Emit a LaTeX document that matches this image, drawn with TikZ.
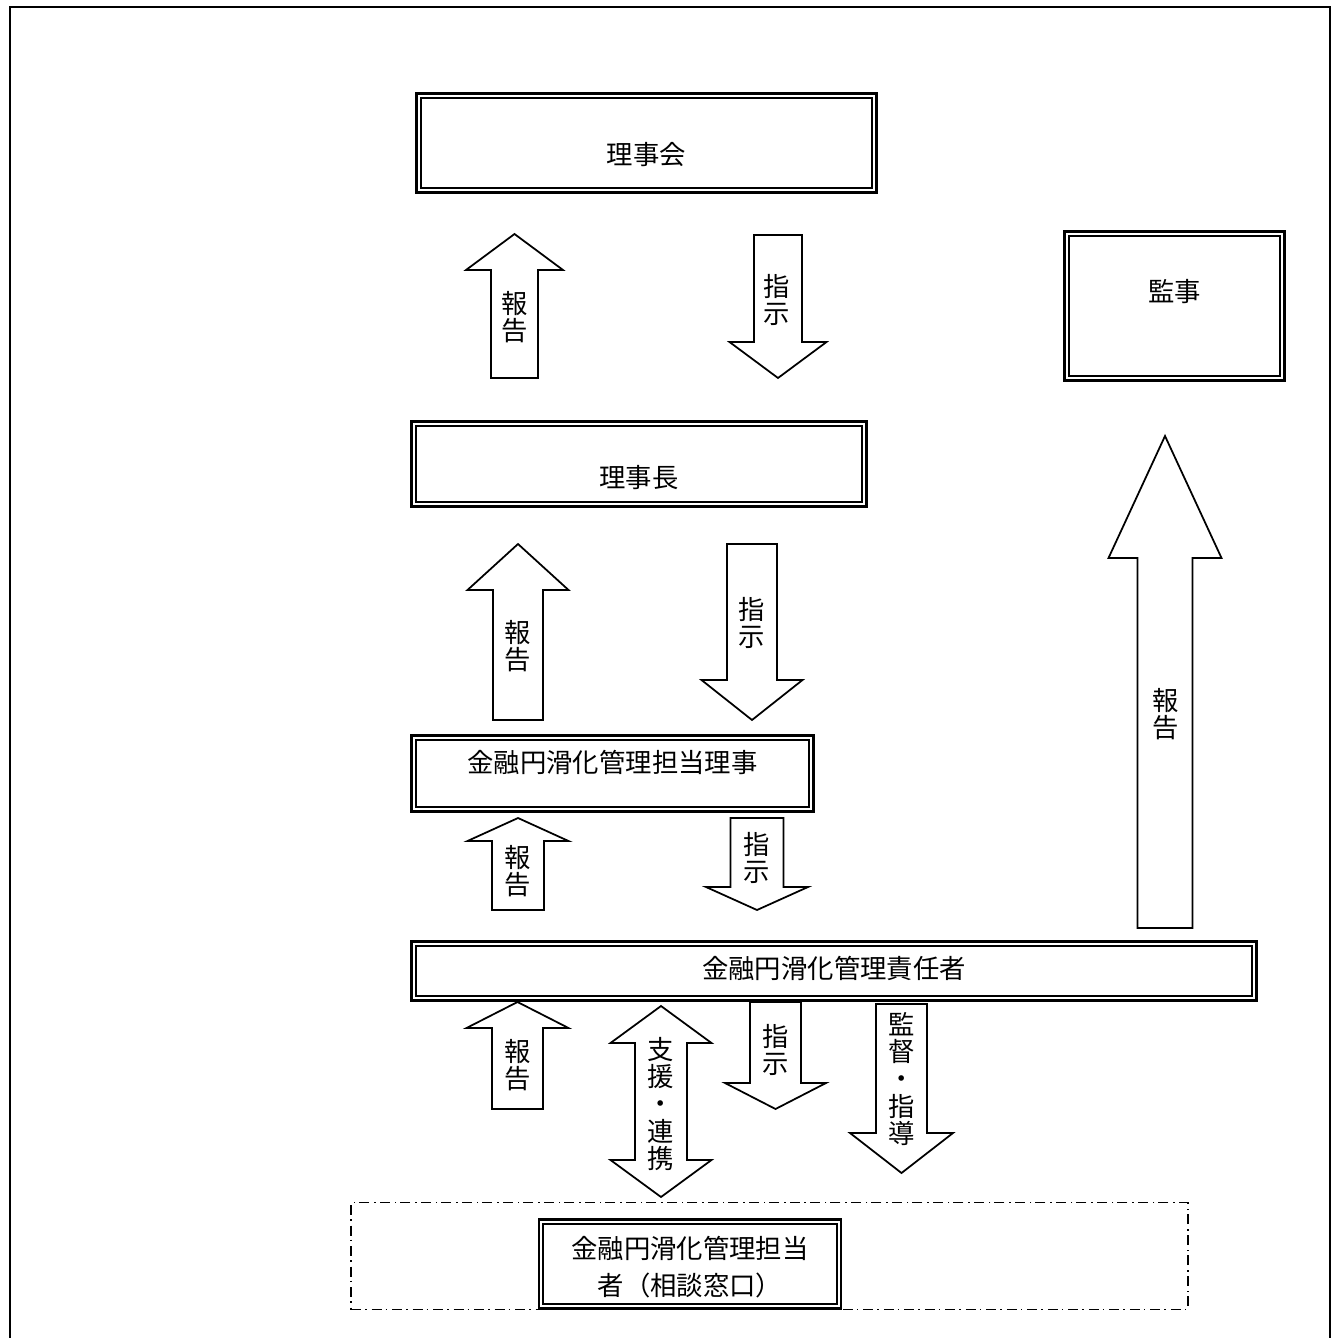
\documentclass[tikz,border=0pt]{standalone}
\usepackage{fontspec}
\setmainfont{Noto Sans CJK JP}
\usetikzlibrary{positioning}
\tikzset{
  dbox/.style={draw, line width=1.6pt, inner sep=0pt, fill=white,
    path picture={\draw[line width=0.9pt] ([shift={(0.085cm,-0.085cm)}]path picture bounding box.north west)
      rectangle ([shift={(-0.085cm,0.085cm)}]path picture bounding box.south east);}},
  chainbox/.style={draw, line width=0.8pt, inner sep=0pt,
    dash pattern=on 0.2cm off 0.08cm on 0.03cm off 0.1cm},
  blk/.style={draw, line width=1pt, line join=miter, fill=white},
  txt/.style={font=\fontsize{15pt}{15.5pt}\selectfont, align=center, inner sep=0pt},
}
% block arrow: x, tip, head base, tail end, shaft half width, head half width
\newcommand{\blkarrow}[6]{%
  \draw[blk] ({#1-#5},#4) -- ({#1-#5},#3) -- ({#1-#6},#3) -- (#1,#2)
    -- ({#1+#6},#3) -- ({#1+#5},#3) -- ({#1+#5},#4) -- cycle;}
% two-headed block arrow: x, top tip, top base, bottom base, bottom tip, shaft half, head half
\newcommand{\blkboth}[7]{%
  \draw[blk] (#1,#2) -- ({#1+#7},#3) -- ({#1+#6},#3) -- ({#1+#6},#4) -- ({#1+#7},#4)
    -- (#1,#5) -- ({#1-#7},#4) -- ({#1-#6},#4) -- ({#1-#6},#3) -- ({#1-#7},#3) -- cycle;}

\begin{document}
\begin{tikzpicture}[x=0.02cm, y=-0.02cm]
  \useasboundingbox (0,0) rectangle (1337,1338);
  \clip (0,0) rectangle (1337,1338);
  \draw[line width=1.1pt] (10,1400) -- (10,7) -- (1330,7) -- (1330,1400);

  % boxes
  \node[dbox, minimum width=9.2cm, minimum height=1.98cm,
    label={[txt, yshift=-0.24cm]center:理事会}] (rijikai) at (646.5,143) {};
  \node[dbox, minimum width=4.4cm, minimum height=2.98cm,
    label={[txt, yshift=0.28cm]center:監事}] (kanji) at (1174.5,306) {};
  \node[dbox, minimum width=9.1cm, minimum height=1.7cm,
    label={[txt, yshift=-0.28cm]center:理事長}] (rijicho) at (639,464) {};
  \node[dbox, minimum width=8.04cm, minimum height=1.52cm,
    label={[txt, yshift=0.23cm]center:金融円滑化管理担当理事}] (tanto) at (612.5,773.5) {};
  \node[dbox, minimum width=16.9cm, minimum height=1.18cm,
    label={[txt, yshift=0.06cm]center:金融円滑化管理責任者}] (sekinin) at (834,971) {};
  \node[chainbox, minimum width=16.74cm, minimum height=2.14cm] (madoguchi) at (769.5,1256) {};
  \node[dbox, minimum width=6.04cm, minimum height=1.78cm,
    label={[txt, font=\fontsize{15pt}{21pt}\selectfont, yshift=-0.07cm]center:金融円滑化管理担当\\者（相談窓口）}]
    (soudan) at (690,1264) {};

  % arrows between boxes
  \blkarrow{514.5}{234}{270}{378}{23.5}{48.5}
  \node[txt] (hokoku1) at (514.5,317) {報\\告};
  \blkarrow{778}{378}{342}{235}{24}{48.5}
  \node[txt] (shiji1) at (777,300) {指\\示};

  \blkarrow{518}{544}{590}{720}{25}{50.5}
  \node[txt] (hokoku2) at (518,646) {報\\告};
  \blkarrow{752}{720}{680}{544}{25}{50.5}
  \node[txt] (shiji2) at (752,623) {指\\示};

  \blkarrow{518}{818}{841}{910}{26}{50.5}
  \node[txt] (hokoku3) at (518,871) {報\\告};
  \blkarrow{757}{910}{887}{818}{26.5}{51}
  \node[txt] (shiji3) at (757,858) {指\\示};

  \blkarrow{1165}{436}{558}{928}{27.5}{56.5}
  \node[txt] (hokoku4) at (1166,714) {報\\告};

  \blkarrow{517.5}{1002}{1028}{1109}{25.5}{51}
  \node[txt] (hokoku5) at (517.5,1065) {報\\告};
  \blkboth{661}{1006}{1043}{1160}{1197}{26}{50.5}
  \node[txt] (shien) at (661,1104) {支\\援\\・\\連\\携};
  \blkarrow{775.5}{1109}{1083}{1002}{25.5}{50.5}
  \node[txt] (shiji4) at (775.5,1050) {指\\示};
  \blkarrow{901.5}{1173}{1133}{1004}{25.5}{51.5}
  \node[txt] (kantoku) at (901.5,1079) {監\\督\\・\\指\\導};
\end{tikzpicture}
\end{document}
